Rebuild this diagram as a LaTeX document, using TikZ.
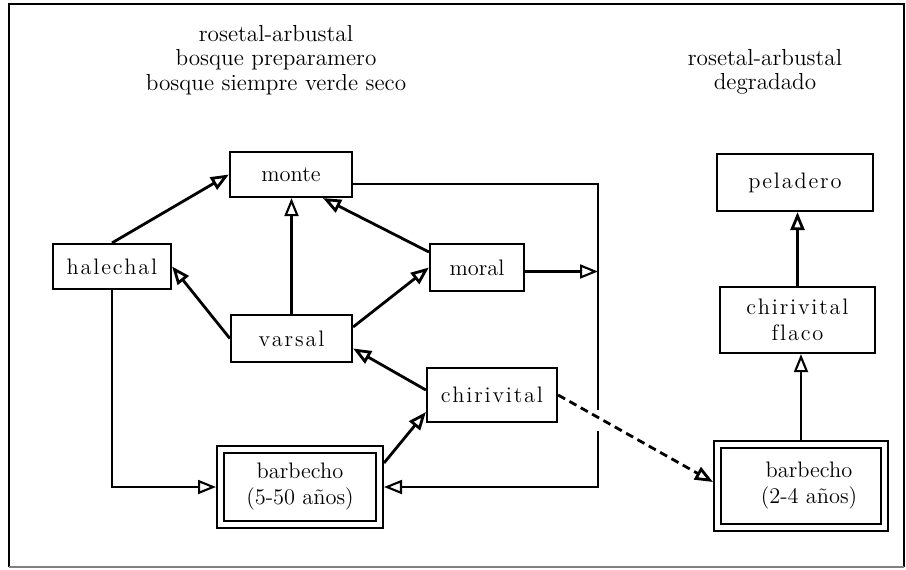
\documentclass[tikz,border=0pt]{standalone}
\usepackage{fontspec}
\usetikzlibrary{arrows.meta}
% letter-spaced labels: a small kern between consecutive letters
\makeatletter
\def\spacedtext#1{\spc@first#1\@nil}
\def\spc@first#1{#1\spc@loop}
\def\spc@loop#1{\ifx#1\@nil\else\kern0.9pt#1\expandafter\spc@loop\fi}
\makeatother
\begin{document}
\begin{tikzpicture}[x=0.5pt,y=-0.5pt,
  every node/.style={font=\fontsize{11.2}{13}\selectfont},
  box/.style={draw, line width=1.1pt, inner sep=0pt, align=center},
  dbox/.style={draw, double, double distance=2.1pt, line width=1.2pt,
    inner sep=0pt, outer sep=2.25pt, align=center},
  head/.style={align=center, font=\fontsize{11.6}{12.3}\selectfont},
  tip/.style={-{Triangle[open,length=9pt,width=7pt]}},
  link/.style={tip, line width=1.4pt},
  thinlink/.style={tip, line width=1.05pt},
  plain/.style={line width=1pt},
  frame/.style={line width=1.3pt}
]
\useasboundingbox (0,0) rectangle (906,569);

% outer frame
\draw[frame] (9,567) |- (904,4) -- (904,567);
\draw[gray, line width=0.6pt] (9,567) -- (904,567);

% headings
\node[head] (headA) at (276,60) {rosetal-arbustal\\bosque preparamero\\bosque siempre verde seco};
\node[head] (headB) at (765,72) {rosetal-arbustal\\degradado};

% left network
\node[box, minimum width=61pt, minimum height=22.5pt] (monte) at (291,174.5) {monte};
\node[box, minimum width=59pt, minimum height=22.5pt] (halechal) at (112,266.5) {\spacedtext{halechal}};
\node[box, minimum width=60.5pt, minimum height=23.5pt] (varsal) at (291.5,338.5) {\spacedtext{varsal}};
\node[box, minimum width=47pt, minimum height=23.5pt] (moral) at (477,267.5) {moral};
\node[box, minimum width=65pt, minimum height=27pt] (chirivital) at (492,395) {\spacedtext{chirivital}};
\node[dbox, minimum width=79.5pt, minimum height=37.5pt] (barbA) at (300,487) {barbecho\\(5-50 años)};

% right network
\node[box, minimum width=78pt, minimum height=28.5pt] (peladero) at (795,182.5) {\spacedtext{peladero}};
\node[box, minimum width=77.5pt, minimum height=33pt] (flaco) at (797.5,320) {\spacedtext{chirivital}\\\spacedtext{flaco}};
\node[dbox, minimum width=83.5pt, minimum height=41.5pt] (barbB) at (801,486) {\hspace*{8pt}barbecho\\\hspace*{8pt}(2-4 años)};

% return loop on the right of the left network
\coordinate (gapA) at (598,410);
\coordinate (gapB) at (598,431);
\draw[plain] ([yshift=-4.75pt]monte.east) -| (gapA);
\draw[thinlink] (gapB) |- (barbA.east);
\draw[thinlink] ([yshift=-2pt]moral.east) -- ([yshift=-2pt]moral.east -| gapA);

% succession arrows
\draw[link] (halechal.north) -- (monte.west);
\draw[thinlink] (varsal.north) -- (varsal.north |- monte.south);
\draw[link] ([yshift=7.75pt]moral.west) -- ([xshift=16pt]monte.south);
\draw[link] ([yshift=5.75pt]varsal.east) -- (moral.west);
\draw[link] (varsal.west) -- (halechal.east);
\draw[link] ([yshift=2.5pt]chirivital.west) -- ([yshift=-5pt]varsal.east);
\draw[link] ([yshift=12pt]barbA.east) -- ([yshift=-8.5pt]chirivital.west);
\draw[thinlink] (halechal.south) |- (barbA.west);
\draw[link, dash pattern=on 4pt off 2.5pt] (chirivital.east) -- ([yshift=2pt]barbB.west);

\draw[link] (flaco.north) -- (flaco.north |- peladero.south);
\draw[thinlink] (barbB.north) -- (barbB.north |- flaco.south);
\end{tikzpicture}
\end{document}
